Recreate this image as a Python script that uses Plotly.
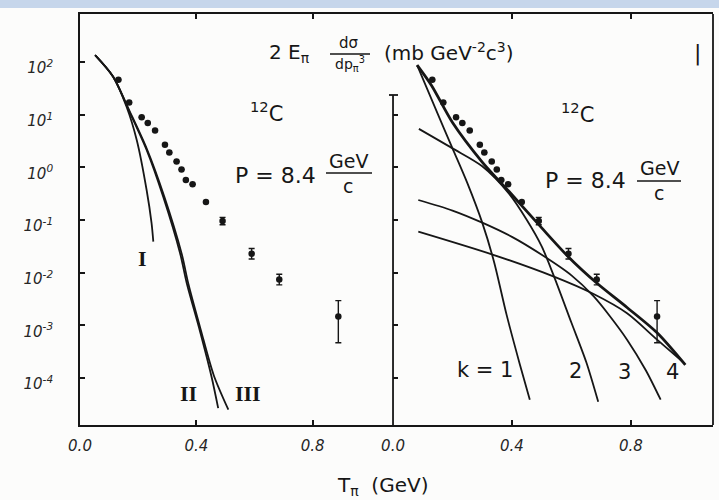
import plotly.graph_objects as go

# ---------------- data ----------------
# measured points (T_pi in GeV, log10 of invariant cross section)
t_data = [0.132, 0.169, 0.212, 0.233, 0.258, 0.292, 0.307, 0.332, 0.349, 0.364,
          0.387, 0.433, 0.49, 0.59, 0.685, 0.888]
logy_data = [1.66, 1.23, 0.95, 0.84, 0.70, 0.43, 0.28, 0.11, -0.04, -0.24,
             -0.32, -0.66, -1.02, -1.64, -2.13, -2.83]
log_err_up = [0, 0, 0, 0, 0, 0, 0, 0, 0, 0, 0, 0, 0.07, 0.1, 0.1, 0.3]
log_err_dn = [0, 0, 0, 0, 0, 0, 0, 0, 0, 0, 0, 0, 0.07, 0.1, 0.1, 0.5]

# left panel model curves I, II, III
c1_t = [0.052, 0.114, 0.16, 0.195, 0.229, 0.246, 0.252]
c1_l = [2.13, 1.72, 1.15, 0.52, -0.43, -1.06, -1.41]
c2_t = [0.052, 0.114, 0.172, 0.229, 0.286, 0.344, 0.367, 0.412, 0.452, 0.475]
c2_l = [2.13, 1.72, 1.03, 0.33, -0.56, -1.63, -2.2, -3.1, -3.97, -4.57]
c3_t = [0.052, 0.114, 0.172, 0.229, 0.29, 0.35, 0.372, 0.415, 0.46, 0.51]
c3_l = [2.13, 1.72, 1.05, 0.36, -0.56, -1.65, -2.2, -3.08, -3.95, -4.6]

# right panel: k = 1..4 components and their sum
k1_t = [0.081, 0.15, 0.2, 0.25, 0.3, 0.34, 0.382, 0.427, 0.46]
k1_l = [1.94, 1.02, 0.36, -0.3, -1.05, -1.8, -2.8, -3.75, -4.41]
k2_t = [0.087, 0.2, 0.3, 0.39, 0.45, 0.5, 0.54, 0.6, 0.65, 0.69]
k2_l = [0.73, 0.36, 0.02, -0.5, -1.0, -1.5, -2.05, -2.95, -3.7, -4.45]
k3_t = [0.085, 0.2, 0.3, 0.4, 0.5, 0.6, 0.675, 0.73, 0.787, 0.85, 0.9]
k3_l = [-0.62, -0.82, -1.05, -1.32, -1.66, -2.05, -2.45, -2.83, -3.27, -3.85, -4.41]
k4_t = [0.085, 0.337, 0.539, 0.673, 0.787, 0.888, 0.98]
k4_l = [-1.22, -1.66, -2.07, -2.4, -2.77, -3.27, -3.72]
sum_t = [0.081, 0.13, 0.2, 0.3, 0.4, 0.5, 0.59, 0.686, 0.787, 0.888, 0.983]
sum_l = [1.94, 1.55, 0.85, 0.1, -0.52, -1.15, -1.7, -2.2, -2.66, -3.14, -3.75]

x_ticks = [0.0, 0.4, 0.8]
x_tick_text = ["0.0", "0.4", "0.8"]
y_exps = [2, 1, 0, -1, -2, -3, -4]

# ---------------- helpers ----------------
INK = "#161616"


def lin(v):
    return [10 ** a for a in v]


def px(x):
    return (x - 80) / 633.0


def py(y):
    return (425 - y) / 411.0


fig = go.Figure()

yv = lin(logy_data)
eu = [10 ** (l + u) - 10 ** l for l, u in zip(logy_data, log_err_up)]
ed = [10 ** l - 10 ** (l - d) for l, d in zip(logy_data, log_err_dn)]

for xa, ya in (("x", "y"), ("x2", "y2")):
    fig.add_trace(go.Scatter(
        x=t_data, y=yv, mode="markers", xaxis=xa, yaxis=ya,
        marker=dict(size=6.5, color=INK),
        error_y=dict(type="data", array=eu, arrayminus=ed, symmetric=False,
                     color=INK, thickness=1.4, width=3),
        showlegend=False, hoverinfo="skip"))


def curve(t, l, xa, ya, w=1.8):
    fig.add_trace(go.Scatter(
        x=t, y=lin(l), mode="lines", xaxis=xa, yaxis=ya,
        line=dict(color=INK, width=w, shape="spline", smoothing=0.8),
        showlegend=False, hoverinfo="skip"))


curve(c1_t, c1_l, "x", "y")
curve(c2_t, c2_l, "x", "y")
curve(c3_t, c3_l, "x", "y")
curve(k1_t, k1_l, "x2", "y2")
curve(k2_t, k2_l, "x2", "y2")
curve(k3_t, k3_l, "x2", "y2")
curve(k4_t, k4_l, "x2", "y2")
curve(sum_t, sum_l, "x2", "y2", w=2.8)

yrange = [-4.89, 2.91]
tickfont = dict(family="DejaVu Sans", size=15, color="#262626", style="italic")

fig.update_layout(
    width=719, height=500,
    margin=dict(l=80, r=6, t=14, b=75),
    paper_bgcolor="#fcfcfb", plot_bgcolor="#fcfcfb",
    xaxis=dict(domain=[0, 0.4945], range=[0, 1.076], tickvals=x_ticks,
               ticktext=x_tick_text, ticks="inside", ticklen=5, tickwidth=1.5,
               tickcolor=INK, showline=True, linecolor=INK, linewidth=1.8,
               mirror="ticks", showgrid=False, zeroline=False,
               tickfont=tickfont, ticklabelstandoff=6),
    xaxis2=dict(domain=[0.4945, 1], range=[0, 1.076], tickvals=x_ticks,
                ticktext=x_tick_text, ticks="inside", ticklen=5, tickwidth=1.5,
                tickcolor=INK, showline=True, linecolor=INK, linewidth=1.8,
                mirror="ticks", showgrid=False, zeroline=False, anchor="y2",
                tickfont=tickfont, ticklabelstandoff=6),
    yaxis=dict(type="log", range=yrange, tickvals=[10 ** e for e in y_exps],
               ticktext=["10<sup>%d</sup>" % e for e in y_exps],
               ticks="inside", ticklen=5, tickwidth=1.5, tickcolor=INK,
               showline=True, linecolor=INK, linewidth=1.8, showgrid=False,
               zeroline=False, tickfont=tickfont, ticklabelstandoff=22,
               ticklabelshift=6),
    yaxis2=dict(type="log", range=yrange, anchor="x2",
                tickvals=[10 ** e for e in y_exps[1:]], showticklabels=False,
                ticks="inside", ticklen=5, tickwidth=1.5, tickcolor=INK,
                showline=False, showgrid=False, zeroline=False),
)

# frame pieces
line = dict(color=INK, width=1.8)
fig.add_shape(type="rect", xref="paper", yref="paper", x0=px(0), x1=px(719),
              y0=py(8), y1=py(0), line=dict(width=0), fillcolor="#c6d6eb",
              layer="below")
fig.add_shape(type="line", xref="paper", yref="paper", x0=1, x1=1, y0=0, y1=1,
              line=line)
fig.add_shape(type="line", xref="paper", yref="paper", x0=0.4945, x1=0.4945,
              y0=0, y1=py(95), line=line)
fig.add_shape(type="line", xref="paper", yref="paper", x0=px(389), x1=px(398),
              y0=py(95), y1=py(95), line=line)
# fraction bars
fig.add_shape(type="line", xref="paper", yref="paper", x0=px(330), x1=px(370),
              y0=py(54), y1=py(54), line=dict(color=INK, width=1.3))
fig.add_shape(type="line", xref="paper", yref="paper", x0=px(326), x1=px(372),
              y0=py(173), y1=py(173), line=dict(color=INK, width=1.7))
fig.add_shape(type="line", xref="paper", yref="paper", x0=px(637), x1=px(681),
              y0=py(181), y1=py(181), line=dict(color=INK, width=1.7))

F = "DejaVu Sans"


def note(text, x, y, size, family=F):
    fig.add_annotation(text=text, x=px(x), y=py(y), xref="paper", yref="paper",
                       showarrow=False, font=dict(family=family, size=size,
                                                  color=INK),
                       xanchor="center", yanchor="middle")


note("2 E<sub>π</sub>", 289, 53, 20)
note("dσ", 349, 43, 15)
note("dp<sub>π</sub><sup>3</sup>", 350, 64, 14)
note("(mb GeV<sup>-2</sup>c<sup>3</sup>)", 449, 52, 20)
note("|", 697, 53, 22)
note("<sup>12</sup>C", 266, 112, 21)
note("<sup>12</sup>C", 577, 113, 21)
note("P = 8.4", 275, 176, 22)
note("GeV", 348, 161, 19)
note("c", 348, 186, 19)
note("P = 8.4", 585, 181, 22)
note("GeV", 659, 168, 19)
note("c", 659, 193, 19)
note("<b>I</b>", 142, 258, 22, "Liberation Serif")
note("<b>II</b>", 188, 393, 22, "Liberation Serif")
note("<b>III</b>", 248, 393, 22, "Liberation Serif")
note("k = 1", 485, 370, 21)
note("2", 575, 371, 21)
note("3", 624, 372, 21)
note("4", 672, 372, 21)
note("T<sub>π</sub>  (GeV)", 382, 486, 20)

fig.write_html("out.html")
